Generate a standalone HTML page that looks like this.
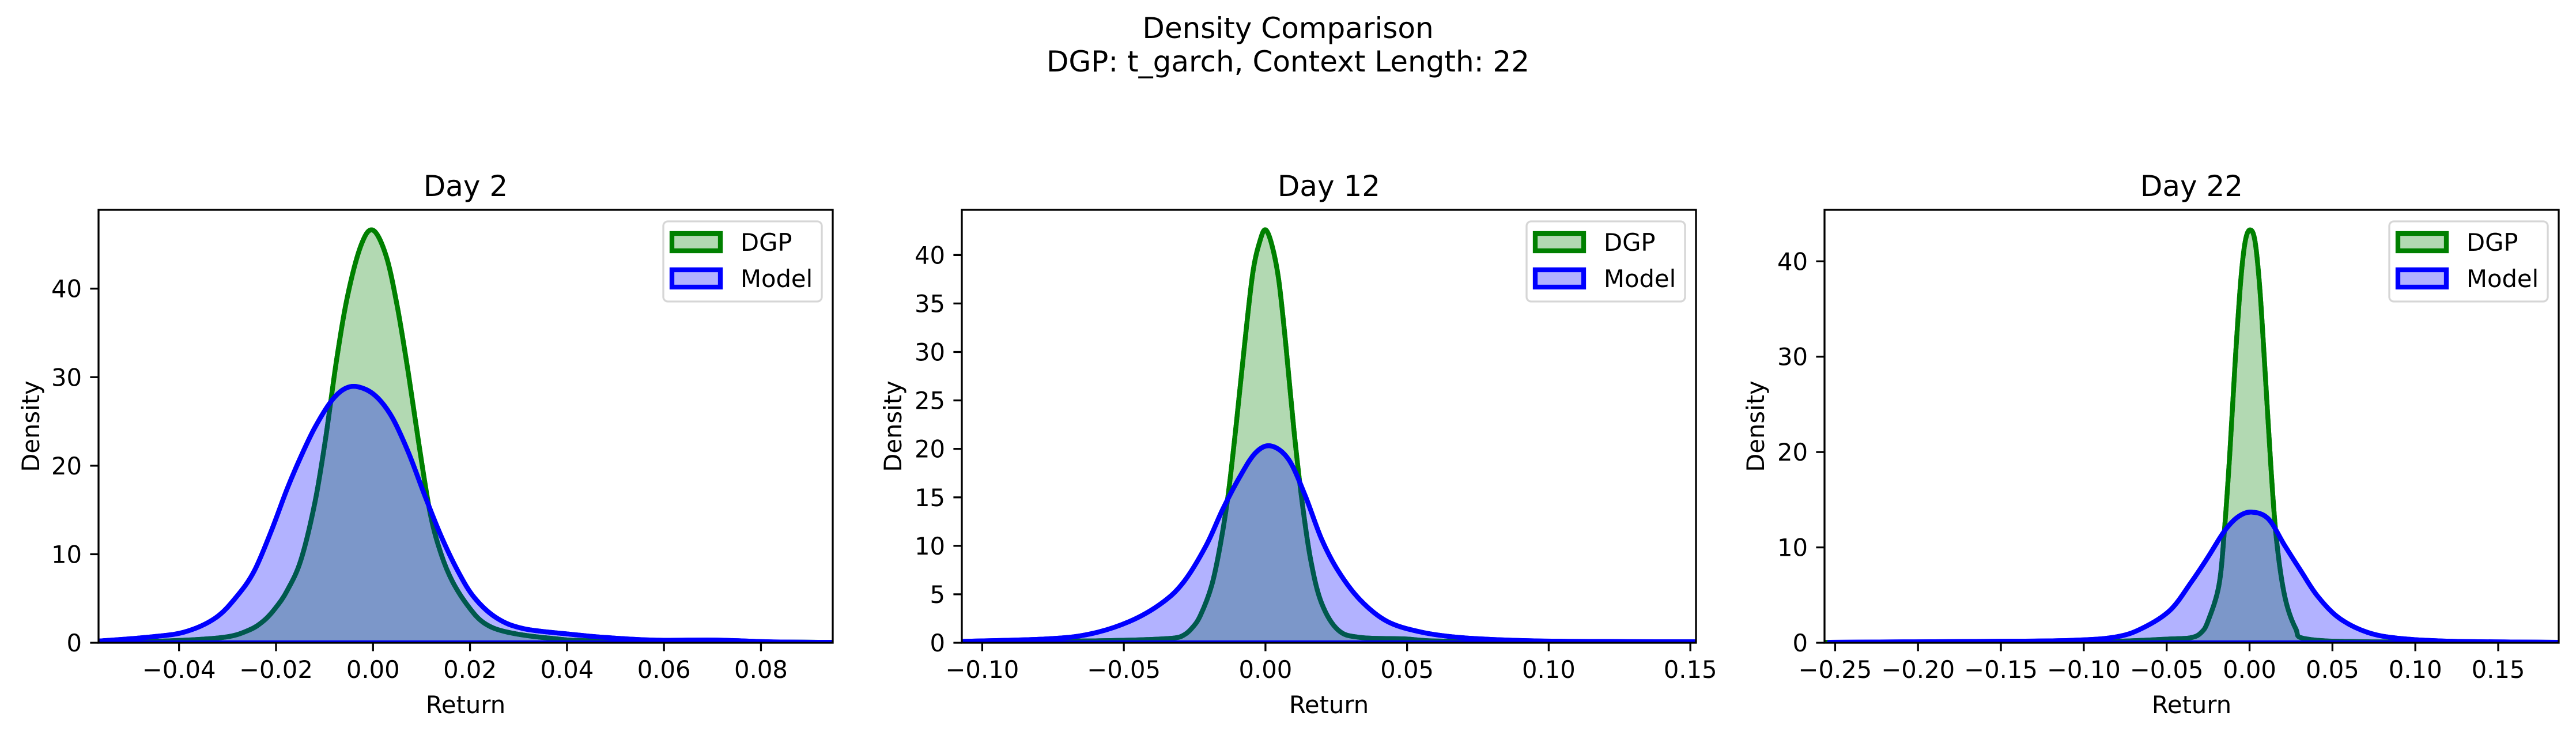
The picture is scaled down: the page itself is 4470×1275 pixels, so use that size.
<!DOCTYPE html>
<html><head><meta charset="utf-8"><style>
html,body{margin:0;padding:0;background:#fff;}
svg{display:block;font-family:"DejaVu Sans","Liberation Sans",sans-serif;}
</style></head><body>
<svg id="fig" width="4470" height="1275" viewBox="0 0 4470 1275">
<rect width="4470" height="1275" fill="#fff"/>
<text x="2235" y="66" text-anchor="middle" font-size="50">Density Comparison</text>
<text x="2235" y="124" text-anchor="middle" font-size="50">DGP: t_garch, Context Length: 22</text>
</svg>
<script>
// Day 2
const day2DgpX = [-0.0566,-0.043,-0.031,-0.0257,-0.0225,-0.02,-0.0177,-0.0149,-0.012,-0.0098,-0.0075,-0.0052,-0.0024,0,0.0027,0.005,0.0073,0.0095,0.0118,0.014,0.0164,0.0198,0.023,0.0277,0.0368,0.048,0.0948];
const day2DgpY = [0.1,0.2,0.6,1.4,2.5,4.0,5.9,9.3,15.8,23,32,39.3,45,46.6,43.7,38,30.4,22.3,14.6,10.1,6.9,4.0,2.2,1.2,0.5,0.2,0.05];
const day2ModelX = [-0.0564,-0.047,-0.039,-0.0325,-0.028,-0.0245,-0.021,-0.0177,-0.0149,-0.012,-0.0086,-0.0058,-0.003,0.0005,0.0039,0.0073,0.0107,0.014,0.0175,0.0209,0.0255,0.031,0.040,0.048,0.058,0.071,0.082,0.0948];
const day2ModelY = [0.2,0.6,1.2,2.8,5.3,8.1,12.6,17.4,21,24.3,27.3,28.7,28.9,27.9,25.5,21.5,16.6,12.1,8.1,5.1,2.8,1.6,1.0,0.6,0.3,0.3,0.1,0.05];
const day2XTicks = [-0.04,-0.02,0.00,0.02,0.04,0.06,0.08];
const day2XLabels = ["\u22120.04","\u22120.02","0.00","0.02","0.04","0.06","0.08"];
const day2YTicks = [0,10,20,30,40];
// Day 12
const day12DgpX = [-0.1072,-0.06,-0.04,-0.032,-0.0288,-0.026,-0.023,-0.019,-0.016,-0.0132,-0.0103,-0.0074,-0.0045,-0.002,0,0.0023,0.0047,0.0072,0.0101,0.013,0.016,0.0198,0.0257,0.0335,0.049,0.068,0.152];
const day12DgpY = [0.1,0.2,0.35,0.5,0.8,1.5,2.8,5.9,10,15.2,22.6,30.7,38.1,41.4,42.6,41,37.4,30.7,21.8,14.4,8.5,4.1,1.3,0.55,0.4,0.15,0.1];
const day12ModelX = [-0.1066,-0.077,-0.062,-0.048,-0.0366,-0.0288,-0.021,-0.0152,-0.0093,-0.0035,0.002,0.0082,0.014,0.0198,0.0257,0.0335,0.043,0.055,0.0685,0.088,0.107,0.152];
const day12ModelY = [0.15,0.4,0.9,2.2,4.1,6.3,10,13.7,17,19.6,20.3,18.9,15.2,10.7,7.4,4.4,2.2,1.1,0.55,0.25,0.15,0.1];
const day12XTicks = [-0.10,-0.05,0.00,0.05,0.10,0.15];
const day12XLabels = ["\u22120.10","\u22120.05","0.00","0.05","0.10","0.15"];
const day12YTicks = [0,5,10,15,20,25,30,35,40];
// Day 22
const day22DgpX = [-0.2564,-0.1,-0.048,-0.035,-0.029,-0.025,-0.0185,-0.0152,-0.0119,-0.0086,-0.0053,-0.0026,0.0003,0.0033,0.0063,0.0096,0.0129,0.0162,0.0212,0.0278,0.0344,0.074,0.1865];
const day22DgpY = [0.05,0.1,0.4,0.55,1.1,2.3,6,11.7,19.9,29.7,38,42.1,43.3,42.1,36.9,27.8,18.4,10.9,4.9,1.5,0.4,0.1,0.05];
const day22ModelX = [-0.2536,-0.158,-0.108,-0.081,-0.065,-0.048,-0.035,-0.025,-0.0152,-0.007,0.0013,0.0113,0.0212,0.0311,0.041,0.054,0.071,0.091,0.124,0.1865];
const day22ModelY = [0.05,0.15,0.25,0.6,1.5,3.4,6.4,9,11.7,13.2,13.7,13,10.2,7.5,4.9,2.6,1.1,0.45,0.15,0.05];
const day22XTicks = [-0.25,-0.20,-0.15,-0.10,-0.05,0.00,0.05,0.10,0.15];
const day22XLabels = ["\u22120.25","\u22120.20","\u22120.15","\u22120.10","\u22120.05","0.00","0.05","0.10","0.15"];
const day22YTicks = [0,10,20,30,40];

const NS = "http://www.w3.org/2000/svg";
const svg = document.getElementById('fig');
function mk(tag, attrs, parent){
  const e = document.createElementNS(NS, tag);
  for (const k in attrs) e.setAttribute(k, attrs[k]);
  (parent||svg).appendChild(e);
  return e;
}
function smoothPath(pts){
  let d = "M" + pts[0][0].toFixed(2) + "," + pts[0][1].toFixed(2);
  for (let i=0;i<pts.length-1;i++){
    const p0=pts[Math.max(0,i-1)], p1=pts[i], p2=pts[i+1], p3=pts[Math.min(pts.length-1,i+2)];
    const c1x=p1[0]+(p2[0]-p0[0])/6, c1y=p1[1]+(p2[1]-p0[1])/6;
    const c2x=p2[0]-(p3[0]-p1[0])/6, c2y=p2[1]-(p3[1]-p1[1])/6;
    d += " C"+c1x.toFixed(2)+","+c1y.toFixed(2)+" "+c2x.toFixed(2)+","+c2y.toFixed(2)+" "+p2[0].toFixed(2)+","+p2[1].toFixed(2);
  }
  return d;
}
function panel(cfg){
  const L=cfg.left, R=cfg.right, T=364, B=1115;
  const sx = v => L + (v-cfg.xmin)/(cfg.xmax-cfg.xmin)*(R-L);
  const sy = v => B - v/cfg.ymax*(B-T);
  const g = mk('g', {});
  
  
  const clipId = cfg.name + '-clip';
  const cp = mk('clipPath', {id: clipId}, g);
  mk('rect', {x:L, y:T, width:R-L, height:B-T}, cp);
  const plot = mk('g', {'clip-path':'url(#'+clipId+')'}, g);
  function series(xs, ys, color, fill, nm){
    const pts = xs.map((x,i)=>[sx(x), sy(ys[i])]);
    const line = smoothPath(pts);
    const area = line + " L" + sx(xs[xs.length-1]).toFixed(2) + "," + sy(0) + " L" + sx(xs[0]).toFixed(2) + "," + sy(0) + " Z";
    const a = mk('path', {d: area, fill: fill, 'fill-opacity': 0.3, stroke: color, 'stroke-width': 8.3, 'stroke-linejoin':'round'}, plot);
    
    
    const l = mk('path', {d: line, fill: 'none', stroke: color, 'stroke-width': 8.3, 'stroke-linejoin':'round', 'stroke-linecap':'round'}, plot);
    
    
  }
  series(cfg.dgpX, cfg.dgpY, '#008000', '#008000', 'dgp');
  series(cfg.modelX, cfg.modelY, '#0000ff', '#0000ff', 'model');
  const fr = mk('rect', {x:L, y:T, width:R-L, height:B-T, fill:'none', stroke:'#000', 'stroke-width':3.3}, g);
  
  
  cfg.xTicks.forEach((v,i)=>{
    const x = sx(v);
    mk('line', {x1:x, x2:x, y1:B, y2:B+14.6, stroke:'#000', 'stroke-width':3.3}, g);
    const t = mk('text', {x:x, y:B+61, 'text-anchor':'middle', 'font-size':41.7}, g);
    t.textContent = cfg.xLabels[i];
    
    
  });
  cfg.yTicks.forEach(v=>{
    const y = sy(v);
    mk('line', {x1:L-14.6, x2:L, y1:y, y2:y, stroke:'#000', 'stroke-width':3.3}, g);
    const t = mk('text', {x:L-29, y:y+15, 'text-anchor':'end', 'font-size':41.7}, g);
    t.textContent = String(v);
    
    
  });
  const xt = mk('text', {x:(L+R)/2, y:1237, 'text-anchor':'middle', 'font-size':41.7}, g);
  xt.textContent = 'Return';
  
  
  const yt = mk('text', {x:0, y:0, 'text-anchor':'middle', 'font-size':41.7, transform:'translate('+(cfg.ylabX+15)+','+((T+B)/2)+') rotate(-90)'}, g);
  yt.textContent = 'Density';
  
  
  const tt = mk('text', {x:(L+R)/2, y:340, 'text-anchor':'middle', 'font-size':50}, g);
  tt.textContent = cfg.title;
  
  
  const lg = mk('g', {}, g);
  
  
  const fx = R-294;
  mk('rect', {x:fx, y:384, width:275, height:139, rx:8, fill:'#fff', 'fill-opacity':0.8, stroke:'#d6d6d6', 'stroke-width':3.3}, lg);
  [['DGP','#008000',420],['Model','#0000ff',483]].forEach(([lab,col,cy])=>{
    const e = mk('g', {}, lg);
    
    
    mk('rect', {x:fx+15, y:cy-15, width:84, height:30, fill:col, 'fill-opacity':0.3, stroke:col, 'stroke-width':8.3}, e);
    const t = mk('text', {x:fx+134, y:cy+15, 'font-size':41.7}, e);
    t.textContent = lab;
  });
}
panel({name:'day-2', title:'Day 2', left:171, right:1445, xmin:-0.0566, xmax:0.0948, ymax:48.9, ylabX:53,
  dgpX:day2DgpX, dgpY:day2DgpY, modelX:day2ModelX, modelY:day2ModelY, xTicks:day2XTicks, xLabels:day2XLabels, yTicks:day2YTicks});
panel({name:'day-12', title:'Day 12', left:1669, right:2943, xmin:-0.1072, xmax:0.152, ymax:44.66, ylabX:1549,
  dgpX:day12DgpX, dgpY:day12DgpY, modelX:day12ModelX, modelY:day12ModelY, xTicks:day12XTicks, xLabels:day12XLabels, yTicks:day12YTicks});
panel({name:'day-22', title:'Day 22', left:3166, right:4440, xmin:-0.2564, xmax:0.1865, ymax:45.4, ylabX:3046,
  dgpX:day22DgpX, dgpY:day22DgpY, modelX:day22ModelX, modelY:day22ModelY, xTicks:day22XTicks, xLabels:day22XLabels, yTicks:day22YTicks});
</script>
</body></html>
